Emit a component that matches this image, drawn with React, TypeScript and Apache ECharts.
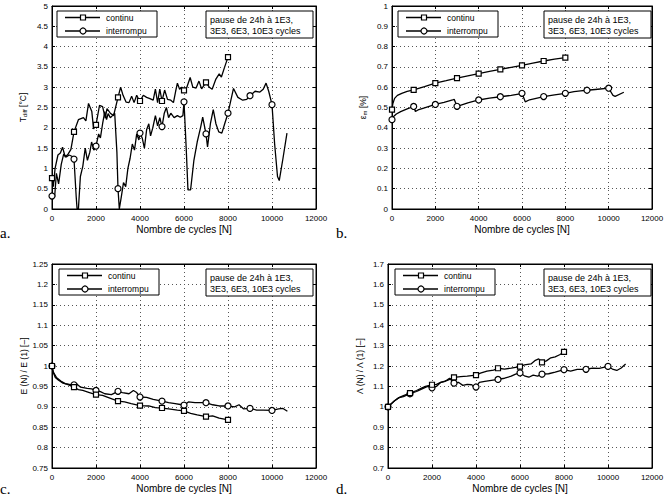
import React, { useEffect, useRef } from "react";
import * as echarts from "echarts";

// ---------- data (cycles, value) ----------
const A_CONT: [number, number][] = [
  [0, 0.76], [60, 0.55], [140, 1.0], [270, 1.33], [380, 1.38], [480, 1.52], [600, 1.28], [730, 1.35], [860, 1.47],
  [1000, 1.9], [1200, 2.2], [1430, 2.25], [1540, 2.17], [1660, 2.6], [1810, 2.4], [1890, 1.97],
  [2000, 2.07], [2160, 2.55], [2300, 2.52], [2420, 2.24], [2500, 2.47], [2650, 2.36], [2800, 2.3],
  [3000, 2.75], [3120, 3.0], [3230, 2.8], [3370, 2.63], [3500, 2.62], [3620, 2.78], [3730, 2.62], [3850, 2.8], [3940, 2.7],
  [4000, 2.66], [4150, 2.8], [4300, 2.75], [4450, 2.72], [4600, 2.68], [4700, 2.95], [4800, 2.62], [4900, 2.95],
  [5000, 2.66], [5120, 2.93], [5250, 2.7], [5400, 2.68], [5520, 2.62], [5620, 2.9], [5700, 3.1], [5800, 2.95], [5900, 3.0],
  [6000, 2.92], [6130, 3.0], [6280, 3.24], [6400, 3.0], [6550, 2.98], [6680, 3.15], [6800, 2.96],
  [7000, 3.12], [7150, 3.0], [7280, 2.95], [7450, 3.2], [7600, 3.33], [7700, 3.25], [7850, 3.5],
  [8000, 3.74],
];
const A_INT: [number, number][] = [
  [0, 0.32], [120, 0.3], [200, 0.88], [300, 0.62], [420, 1.1], [530, 1.35], [650, 1.28], [780, 1.33], [900, 1.3],
  [1000, 1.23], [1100, 0.3], [1140, 0], [1200, 0], [1290, 0.8], [1400, 1.05], [1510, 1.5], [1610, 1.2], [1720, 1.4], [1800, 1.65], [1900, 1.45],
  [2000, 1.55], [2120, 1.85], [2200, 1.75], [2300, 2.1], [2400, 2.4], [2480, 2.2], [2550, 2.35], [2650, 2.25], [2750, 2.3], [2850, 2.36], [2950, 1.4],
  [3000, 0.5], [3060, 0], [3150, 0.3], [3250, 0.65], [3350, 0.55], [3450, 1.0], [3550, 1.25], [3650, 1.6], [3750, 1.45], [3850, 1.85], [3950, 1.7],
  [4000, 1.87], [4100, 1.75], [4200, 1.5], [4300, 1.95], [4400, 2.1], [4480, 1.8], [4580, 2.0], [4700, 2.3], [4800, 2.05], [4900, 2.25],
  [5000, 2.03], [5100, 2.35], [5200, 2.5], [5300, 2.25], [5400, 2.36], [5550, 2.25], [5700, 2.3], [5830, 2.26], [5950, 2.3],
  [6000, 2.64], [6100, 1.5], [6180, 0.47], [6300, 0.47], [6450, 1.2], [6600, 1.65], [6750, 2.0], [6850, 2.26],
  [7000, 1.85], [7070, 1.53], [7200, 2.1], [7330, 2.45], [7450, 2.1], [7580, 1.9], [7720, 1.87], [7850, 2.1],
  [8000, 2.36], [8250, 2.97], [8450, 2.75], [8670, 2.68], [8850, 2.7],
  [9000, 2.79], [9230, 2.9], [9450, 2.88], [9600, 2.95], [9730, 3.1], [9850, 2.9],
  [10000, 2.57], [10120, 1.6], [10250, 0.8], [10330, 0.7], [10500, 1.25], [10680, 1.87],
];

const B_CONT: [number, number][] = [
  [0, 0.49], [40, 0.52], [120, 0.545], [250, 0.56], [450, 0.57], [700, 0.579],
  [1000, 0.587], [1500, 0.603], [2000, 0.62], [2500, 0.632], [3000, 0.645], [3500, 0.656],
  [4000, 0.667], [4500, 0.678], [5000, 0.688], [5500, 0.698], [6000, 0.708], [6500, 0.719],
  [7000, 0.729], [7500, 0.738], [8000, 0.746],
];
const B_INT: [number, number][] = [
  [0, 0.44], [60, 0.455], [200, 0.468], [400, 0.48], [700, 0.493], [1000, 0.505], [1080, 0.48], [1200, 0.488], [1500, 0.498],
  [2000, 0.515], [2400, 0.525], [2800, 0.537], [2870, 0.54], [2950, 0.52], [3000, 0.506], [3150, 0.51], [3500, 0.523],
  [4000, 0.537], [4500, 0.546], [5000, 0.553], [5500, 0.56], [5900, 0.567], [6000, 0.57], [6150, 0.528], [6350, 0.538],
  [7000, 0.554], [7500, 0.562], [8000, 0.57], [8400, 0.578], [8700, 0.582], [9000, 0.585], [9500, 0.59],
  [10000, 0.595], [10200, 0.56], [10300, 0.555], [10700, 0.575],
];

const C_CONT: [number, number][] = [
  [0, 1.0], [50, 0.985], [150, 0.972], [300, 0.965], [500, 0.958], [700, 0.955], [1000, 0.948], [1200, 0.942],
  [1400, 0.94], [1700, 0.935], [2000, 0.93], [2300, 0.928], [2600, 0.922], [3000, 0.914], [3300, 0.912], [3600, 0.908],
  [4000, 0.903], [4400, 0.902], [4700, 0.898], [5000, 0.897], [5300, 0.895], [5700, 0.892], [6000, 0.89], [6300, 0.884],
  [6600, 0.88], [7000, 0.876], [7300, 0.878], [7600, 0.872], [8000, 0.868],
];
const C_INT: [number, number][] = [
  [0, 1.0], [60, 0.985], [200, 0.972], [400, 0.963], [600, 0.957], [800, 0.955], [1000, 0.954], [1100, 0.957], [1300, 0.948],
  [1600, 0.945], [1800, 0.944], [2000, 0.94], [2200, 0.937], [2400, 0.932], [2700, 0.93], [3000, 0.938], [3200, 0.935],
  [3500, 0.932], [3700, 0.94], [3850, 0.935], [4000, 0.924], [4300, 0.923], [4600, 0.918], [5000, 0.914], [5300, 0.91],
  [5600, 0.908], [5900, 0.905], [6000, 0.904], [6200, 0.912], [6500, 0.91], [7000, 0.91], [7300, 0.905], [7600, 0.902],
  [8000, 0.902], [8300, 0.9], [8500, 0.905], [8700, 0.895], [9000, 0.896], [9300, 0.892], [9600, 0.892], [10000, 0.891],
  [10300, 0.895], [10500, 0.896], [10700, 0.889],
];

const D_CONT: [number, number][] = [
  [0, 1.0], [100, 1.01], [300, 1.03], [500, 1.045], [700, 1.055], [1000, 1.067], [1300, 1.08], [1500, 1.09], [1700, 1.1],
  [2000, 1.108], [2200, 1.11], [2400, 1.12], [2700, 1.13], [3000, 1.144], [3300, 1.148], [3600, 1.15], [4000, 1.155],
  [4200, 1.165], [4500, 1.175], [4800, 1.18], [5000, 1.189], [5300, 1.185], [5600, 1.19], [6000, 1.197], [6200, 1.205],
  [6500, 1.21], [6700, 1.228], [6850, 1.235], [7000, 1.218], [7200, 1.225], [7400, 1.24], [7600, 1.245], [7800, 1.255],
  [8000, 1.269],
];
const D_INT: [number, number][] = [
  [0, 1.0], [100, 1.01], [300, 1.03], [500, 1.045], [700, 1.05], [1000, 1.064], [1300, 1.075], [1600, 1.09], [1800, 1.1],
  [2000, 1.093], [2200, 1.1], [2400, 1.12], [2600, 1.125], [2800, 1.14], [3000, 1.116], [3200, 1.12], [3400, 1.105],
  [3600, 1.11], [3800, 1.108], [4000, 1.097], [4150, 1.12], [4400, 1.125], [4700, 1.13], [5000, 1.134], [5300, 1.14],
  [5600, 1.15], [5800, 1.16], [6000, 1.166], [6200, 1.152], [6400, 1.145], [6600, 1.155], [6800, 1.15], [7000, 1.16],
  [7300, 1.162], [7600, 1.17], [8000, 1.182], [8300, 1.175], [8600, 1.183], [9000, 1.184], [9300, 1.19], [9600, 1.188],
  [10000, 1.198], [10200, 1.185], [10400, 1.178], [10600, 1.19], [10800, 1.21],
];

const SERIES_NAMES = ["continu", "interrompu"];
const NOTE_TEXT = "pause de 24h à 1E3,\n3E3, 6E3, 10E3 cycles";
const X_NAME = "Nombre de cycles [N]";
const X_RANGE = [0, 12000, 2000];
const MARKER_STEP = 1000;

const FONT = "Liberation Sans, Arial, Helvetica, sans-serif";
const SERIF = "Liberation Serif, Times New Roman, serif";

const PANELS = [
  {
    cont: A_CONT, int: A_INT, y: [0, 5, 0.5], yName: "{n|T}{s|diff}{n| [°C]}",
    grid: { left: 52, top: 6, width: 264, height: 203 }, legend: { x: 57, y: 11 },
    note: { x: 206, y: 11 }, label: { text: "a.", x: 0, y: 225 }, nameGap: 24,
  },
  {
    cont: B_CONT, int: B_INT, y: [0, 1, 0.1], yName: "{n|ε}{s|m}{n| [%]}",
    grid: { left: 392, top: 6, width: 260, height: 203 }, legend: { x: 398, y: 11 },
    note: { x: 544, y: 11 }, label: { text: "b.", x: 336, y: 225 }, nameGap: 24,
  },
  {
    cont: C_CONT, int: C_INT, y: [0.75, 1.25, 0.05], yName: "{n|E (N) / E (1) [–]}",
    grid: { left: 52, top: 264, width: 264, height: 204 }, legend: { x: 59, y: 269 },
    note: { x: 206, y: 269 }, label: { text: "c.", x: 0, y: 481 }, nameGap: 24,
  },
  {
    cont: D_CONT, int: D_INT, y: [0.7, 1.7, 0.1], yName: "{n|Λ (N) / Λ (1) [–]}",
    grid: { left: 388, top: 264, width: 264, height: 204 }, legend: { x: 395, y: 269 },
    note: { x: 544, y: 269 }, label: { text: "d.", x: 336, y: 481 }, nameGap: 24,
  },
];

function buildOption() {
  const grid: any[] = [];
  const xAxis: any[] = [];
  const yAxis: any[] = [];
  const series: any[] = [];
  const graphic: any[] = [];

  const tick = { show: true, inside: true, length: 3, lineStyle: { color: "#000", width: 1 } };
  const axisLine = { show: true, onZero: false, lineStyle: { color: "#000", width: 1 } };
  const split = { show: true, lineStyle: { type: [1, 3], color: "#555", width: 1 } };

  PANELS.forEach((p, i) => {
    grid.push({ ...p.grid, show: true, borderColor: "#000", borderWidth: 1, backgroundColor: "#fff", containLabel: false });
    const xBase = { type: "value", gridIndex: i, min: X_RANGE[0], max: X_RANGE[1], interval: X_RANGE[2] };
    const yBase = { type: "value", gridIndex: i, min: p.y[0], max: p.y[1], interval: p.y[2] };
    xAxis.push({
      ...xBase, position: "bottom", axisLine, axisTick: tick, splitLine: split,
      axisLabel: { color: "#000", fontFamily: FONT, fontSize: 8, margin: 5, formatter: (v: number) => String(v) },
      name: X_NAME, nameLocation: "middle", nameGap: 15,
      nameTextStyle: { color: "#000", fontFamily: FONT, fontSize: 10 },
    });
    xAxis.push({ ...xBase, position: "top", axisLine, axisTick: tick, splitLine: { show: false }, axisLabel: { show: false } });
    yAxis.push({
      ...yBase, position: "left", axisLine, axisTick: tick, splitLine: split,
      axisLabel: { color: "#000", fontFamily: FONT, fontSize: 8, margin: 4, formatter: (v: number) => String(+v.toFixed(2)) },
      name: p.yName, nameLocation: "middle", nameGap: p.nameGap, nameRotate: 90,
      nameTextStyle: {
        color: "#000", fontFamily: FONT, fontSize: 8.5,
        rich: {
          n: { fontFamily: FONT, fontSize: 8.5, color: "#000" },
          s: { fontFamily: FONT, fontSize: 6, color: "#000", padding: [5, 0, 0, 0] },
        },
      },
    });
    yAxis.push({ ...yBase, position: "right", axisLine, axisTick: tick, splitLine: { show: false }, axisLabel: { show: false } });

    [p.cont, p.int].forEach((pts, k) => {
      series.push({
        type: "line",
        name: SERIES_NAMES[k],
        xAxisIndex: 2 * i,
        yAxisIndex: 2 * i,
        symbol: k === 0 ? "rect" : "circle",
        symbolSize: k === 0 ? 5 : 6,
        showAllSymbol: true,
        lineStyle: { color: "#000", width: 1.3 },
        itemStyle: { color: "#fff", borderColor: "#000", borderWidth: 1.2 },
        emphasis: { disabled: true },
        data: pts.map(([x, y]) => (x % MARKER_STEP === 0 ? { value: [x, y] } : { value: [x, y], symbol: "none" })),
        z: 3 - k,
      });
    });

    // legend box (drawn by hand to match the MATLAB style)
    const lx = p.legend.x;
    const ly = p.legend.y;
    graphic.push({
      type: "rect",
      shape: { x: lx, y: ly, width: 100, height: 26 },
      style: { fill: "#fff", stroke: "#000", lineWidth: 1 },
      z: 100,
    });
    SERIES_NAMES.forEach((name, k) => {
      const cy = ly + 6.5 + k * 13.5;
      graphic.push({
        type: "line",
        shape: { x1: lx + 8, y1: cy, x2: lx + 43, y2: cy },
        style: { stroke: "#000", lineWidth: 1.3 },
        z: 101,
      });
      if (k === 0) {
        graphic.push({
          type: "rect",
          shape: { x: lx + 23.5, y: cy - 2.5, width: 5, height: 5 },
          style: { fill: "#fff", stroke: "#000", lineWidth: 1.2 },
          z: 102,
        });
      } else {
        graphic.push({
          type: "circle",
          shape: { cx: lx + 26, cy, r: 3 },
          style: { fill: "#fff", stroke: "#000", lineWidth: 1.2 },
          z: 102,
        });
      }
      graphic.push({
        type: "text",
        x: lx + 49,
        y: cy,
        style: { text: name, fontFamily: FONT, fontSize: 8.5, fill: "#000", verticalAlign: "middle" },
        z: 102,
      });
    });

    graphic.push({
      type: "rect",
      shape: { x: p.note.x, y: p.note.y, width: 107, height: 27 },
      style: { fill: "#fff", stroke: "#000", lineWidth: 1 },
      z: 100,
    });
    graphic.push({
      type: "text",
      x: p.note.x + 4,
      y: p.note.y + 3,
      style: { text: NOTE_TEXT, fontFamily: FONT, fontSize: 9, lineHeight: 11, fill: "#000" },
      z: 101,
    });
    graphic.push({
      type: "text",
      x: p.label.x,
      y: p.label.y,
      style: { text: p.label.text, fontFamily: SERIF, fontSize: 15, fill: "#000" },
      z: 101,
    });
  });

  return { animation: false, backgroundColor: "#fff", grid, xAxis, yAxis, series, graphic };
}

export default function App() {
  const ref = useRef<HTMLDivElement>(null);
  useEffect(() => {
    if (!ref.current) return;
    const chart = echarts.init(ref.current, undefined, { renderer: "svg" });
    chart.setOption(buildOption() as any);
    return () => chart.dispose();
  }, []);
  return (
    <div
      ref={ref}
      style={{ position: "fixed", left: 0, top: 0, width: 672, height: 501, background: "#fff" }}
    />
  );
}
